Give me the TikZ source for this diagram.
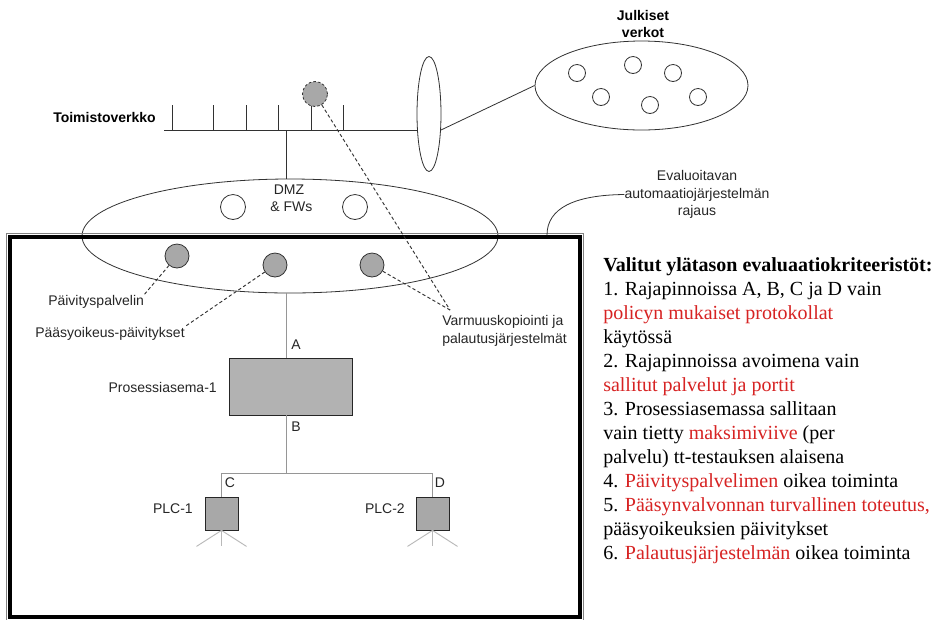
\documentclass[tikz,border=0pt]{standalone}
\usepackage{fontspec}
\setmainfont{Liberation Serif}
\setsansfont{Liberation Sans}
\usetikzlibrary{shapes.geometric}
\definecolor{redtxt}{RGB}{215,35,35}
\definecolor{fillgray}{RGB}{168,168,168}
\definecolor{boxgray}{RGB}{178,178,178}
\definecolor{linegray}{RGB}{150,150,150}
\definecolor{leggray}{RGB}{185,185,185}
\definecolor{dark}{RGB}{50,50,50}
\definecolor{rimgray}{RGB}{130,130,130}
\begin{document}
\begin{tikzpicture}[x=0.75pt,y=-0.75pt,
  lbl/.style={inner sep=0pt, text=black!85, font=\sffamily\fontsize{10.5}{13}\selectfont},
  blbl/.style={inner sep=0pt, font=\sffamily\bfseries\fontsize{10.5}{13}\selectfont},
  crit/.style={inner sep=0pt, anchor=base west, font=\rmfamily\fontsize{15}{18}\selectfont},
  wcirc/.style={circle, draw=dark, fill=white, minimum size=18.75pt, inner sep=0pt, line width=0.6pt},
  scirc/.style={circle, draw=dark, fill=white, minimum size=12.75pt, inner sep=0pt, line width=0.6pt},
  gcirc/.style={circle, draw=dark, fill=fillgray, minimum size=18pt, inner sep=0pt, line width=0.6pt},
  ell/.style={ellipse, draw=dark, inner sep=0pt, line width=0.6pt},
  net/.style={draw=dark, line width=0.6pt},
  conn/.style={draw=linegray, line width=0.7pt},
  leg/.style={draw=leggray, line width=0.7pt},
  dsh/.style={draw=dark, line width=0.7pt, dash pattern=on 2.5pt off 1.8pt},
  gbox/.style={rectangle, draw=black!85, fill=boxgray, inner sep=0pt, line width=0.6pt}
]
\useasboundingbox (0,0) rectangle (939,619);
\fill[white] (0,0) rectangle (939,619);

% office network bus
\node[blbl, anchor=base west] (toim) at (53,122) {Toimistoverkko};
\coordinate (busL) at (164,130);
\coordinate (busR) at (417.5,130);
\draw[net] (busL) -- (busR);
\foreach \x in {172,213,246,278,311,343} \draw[net] (\x,105) -- (\x,130);
\node[ell, minimum width=18pt, minimum height=86.25pt] (vert) at (429,114) {};
\node[circle, draw=dark, fill=fillgray, minimum size=18.75pt, inner sep=0pt, line width=0.6pt, dash pattern=on 2pt off 1.5pt] (dc) at (315,94) {};

% public networks
\node[ell, minimum width=159.75pt, minimum height=66.75pt] (julk) at (641.5,85.5) {};
\node[blbl, align=center] (julkl) at (643,24) {Julkiset\\verkot};
\node[scirc] (p1) at (577,73) {};
\node[scirc] (p2) at (633,65) {};
\node[scirc] (p3) at (673,73) {};
\node[scirc] (p4) at (601,97) {};
\node[scirc] (p5) at (650,105) {};
\node[scirc] (p6) at (698,97) {};
\coordinate (vE) at (441,130);
\draw[net] (vE) -- (julk.west);

% DMZ
\node[ell, minimum width=312pt, minimum height=85.5pt] (dmz) at (290,236) {};
\coordinate (j1) at (286,130);
\draw[net] (j1) -- (j1 |- dmz.north);
\node[lbl, align=center] (dmzl) at (289,198.5) {DMZ\\[-0.5pt]\,\,\& FWs};
\node[wcirc] (w1) at (233,207) {};
\node[wcirc] (w2) at (355,207) {};

% frame
\draw[rimgray, line width=0.75pt] (6.5,233.5) rectangle (583.5,621);
\draw[black, line width=3.4pt] (10,237) rectangle (580,617);
\coordinate (fr) at (547,235);
\node[lbl, align=center] (ev) at (697,194.5) {Evaluoitavan\\automaatioj\"arjestelm\"an\\rajaus};
\draw[net] (ev.west) .. controls (575,195) and (547,208) .. (fr);

% servers in DMZ
\node[gcirc] (g1) at (177,256) {};
\node[gcirc] (g2) at (275,265) {};
\node[gcirc] (g3) at (372,265) {};
\node[lbl, anchor=base west] (pp) at (48,305) {P\"aivityspalvelin};
\node[lbl, anchor=base west] (pk) at (35,337) {P\"a\"asyoikeus-p\"aivitykset};
\node[lbl, anchor=west, align=left] (vk) at (442,331) {Varmuuskopiointi ja\\palautusj\"arjestelm\"at};
\coordinate (vm) at (450,310);
\draw[dsh] (g1) -- (pp.north east);
\draw[dsh] (g2) -- (pk.north east);
\draw[dsh] (g3) -- (vm);
\draw[dsh] (dc) -- (vm);

% process station
\node[gbox, minimum width=92.25pt, minimum height=42.75pt] (pa) at (290.5,386.5) {};
\node[lbl, anchor=east] (pal) at (217,387) {Prosessiasema-1};
\coordinate (aT) at (286,293);
\draw[conn] (aT) -- (aT |- pa.north);
\node[lbl] (la) at (296,345) {A};
\coordinate (bT) at (286,415);
\coordinate (br) at (286,473);
\draw[conn] (bT) -- (br);
\node[lbl] (lb) at (296,427) {B};

% PLCs
\node[gbox, minimum size=24.75pt, fill=fillgray] (plc1) at (221.5,513.5) {};
\node[gbox, minimum size=24.75pt, fill=fillgray] (plc2) at (432.5,513.5) {};
\coordinate (brL) at (221.5,473);
\coordinate (brR) at (432.5,473);
\draw[conn] (brL) -- (brR);
\draw[conn] (brL) -- (plc1.north);
\draw[conn] (brR) -- (plc2.north);
\node[lbl] (lc) at (230,483) {C};
\node[lbl] (ld) at (440,483) {D};
\node[lbl, anchor=east] (pl1) at (193,509) {PLC-1};
\node[lbl, anchor=east] (pl2) at (405,509) {PLC-2};
\foreach \n in {plc1,plc2} {
  \draw[leg] (\n.south) -- ++(-25,16);
  \draw[leg] (\n.south) -- ++(0,16);
  \draw[leg] (\n.south) -- ++(25,16);
}

% criteria text
\node[crit, font=\rmfamily\bfseries\fontsize{15}{18}\selectfont] (t1) at (603,271) {Valitut ylätason evaluaatiokriteeristöt:};
\node[crit] (t2) at (603,295) {1. Rajapinnoissa A, B, C ja D vain};
\node[crit] (t3) at (603,319) {\textcolor{redtxt}{policyn mukaiset protokollat}};
\node[crit] (t4) at (603,343) {käytössä};
\node[crit] (t5) at (603,367) {2. Rajapinnoissa avoimena vain};
\node[crit] (t6) at (603,391) {\textcolor{redtxt}{sallitut palvelut ja portit}};
\node[crit] (t7) at (603,415) {3. Prosessiasemassa sallitaan};
\node[crit] (t8) at (603,439) {vain tietty \textcolor{redtxt}{maksimiviive} (per};
\node[crit] (t9) at (603,463) {palvelu) tt-testauksen alaisena};
\node[crit] (t10) at (603,487) {4. \textcolor{redtxt}{Päivityspalvelimen} oikea toiminta};
\node[crit] (t11) at (603,511) {5. \textcolor{redtxt}{Pääsynvalvonnan turvallinen toteutus,}};
\node[crit] (t12) at (603,535) {pääsyoikeuksien päivitykset};
\node[crit] (t13) at (603,559) {6. \textcolor{redtxt}{Palautusjärjestelmän} oikea toiminta};
\end{tikzpicture}
\end{document}
